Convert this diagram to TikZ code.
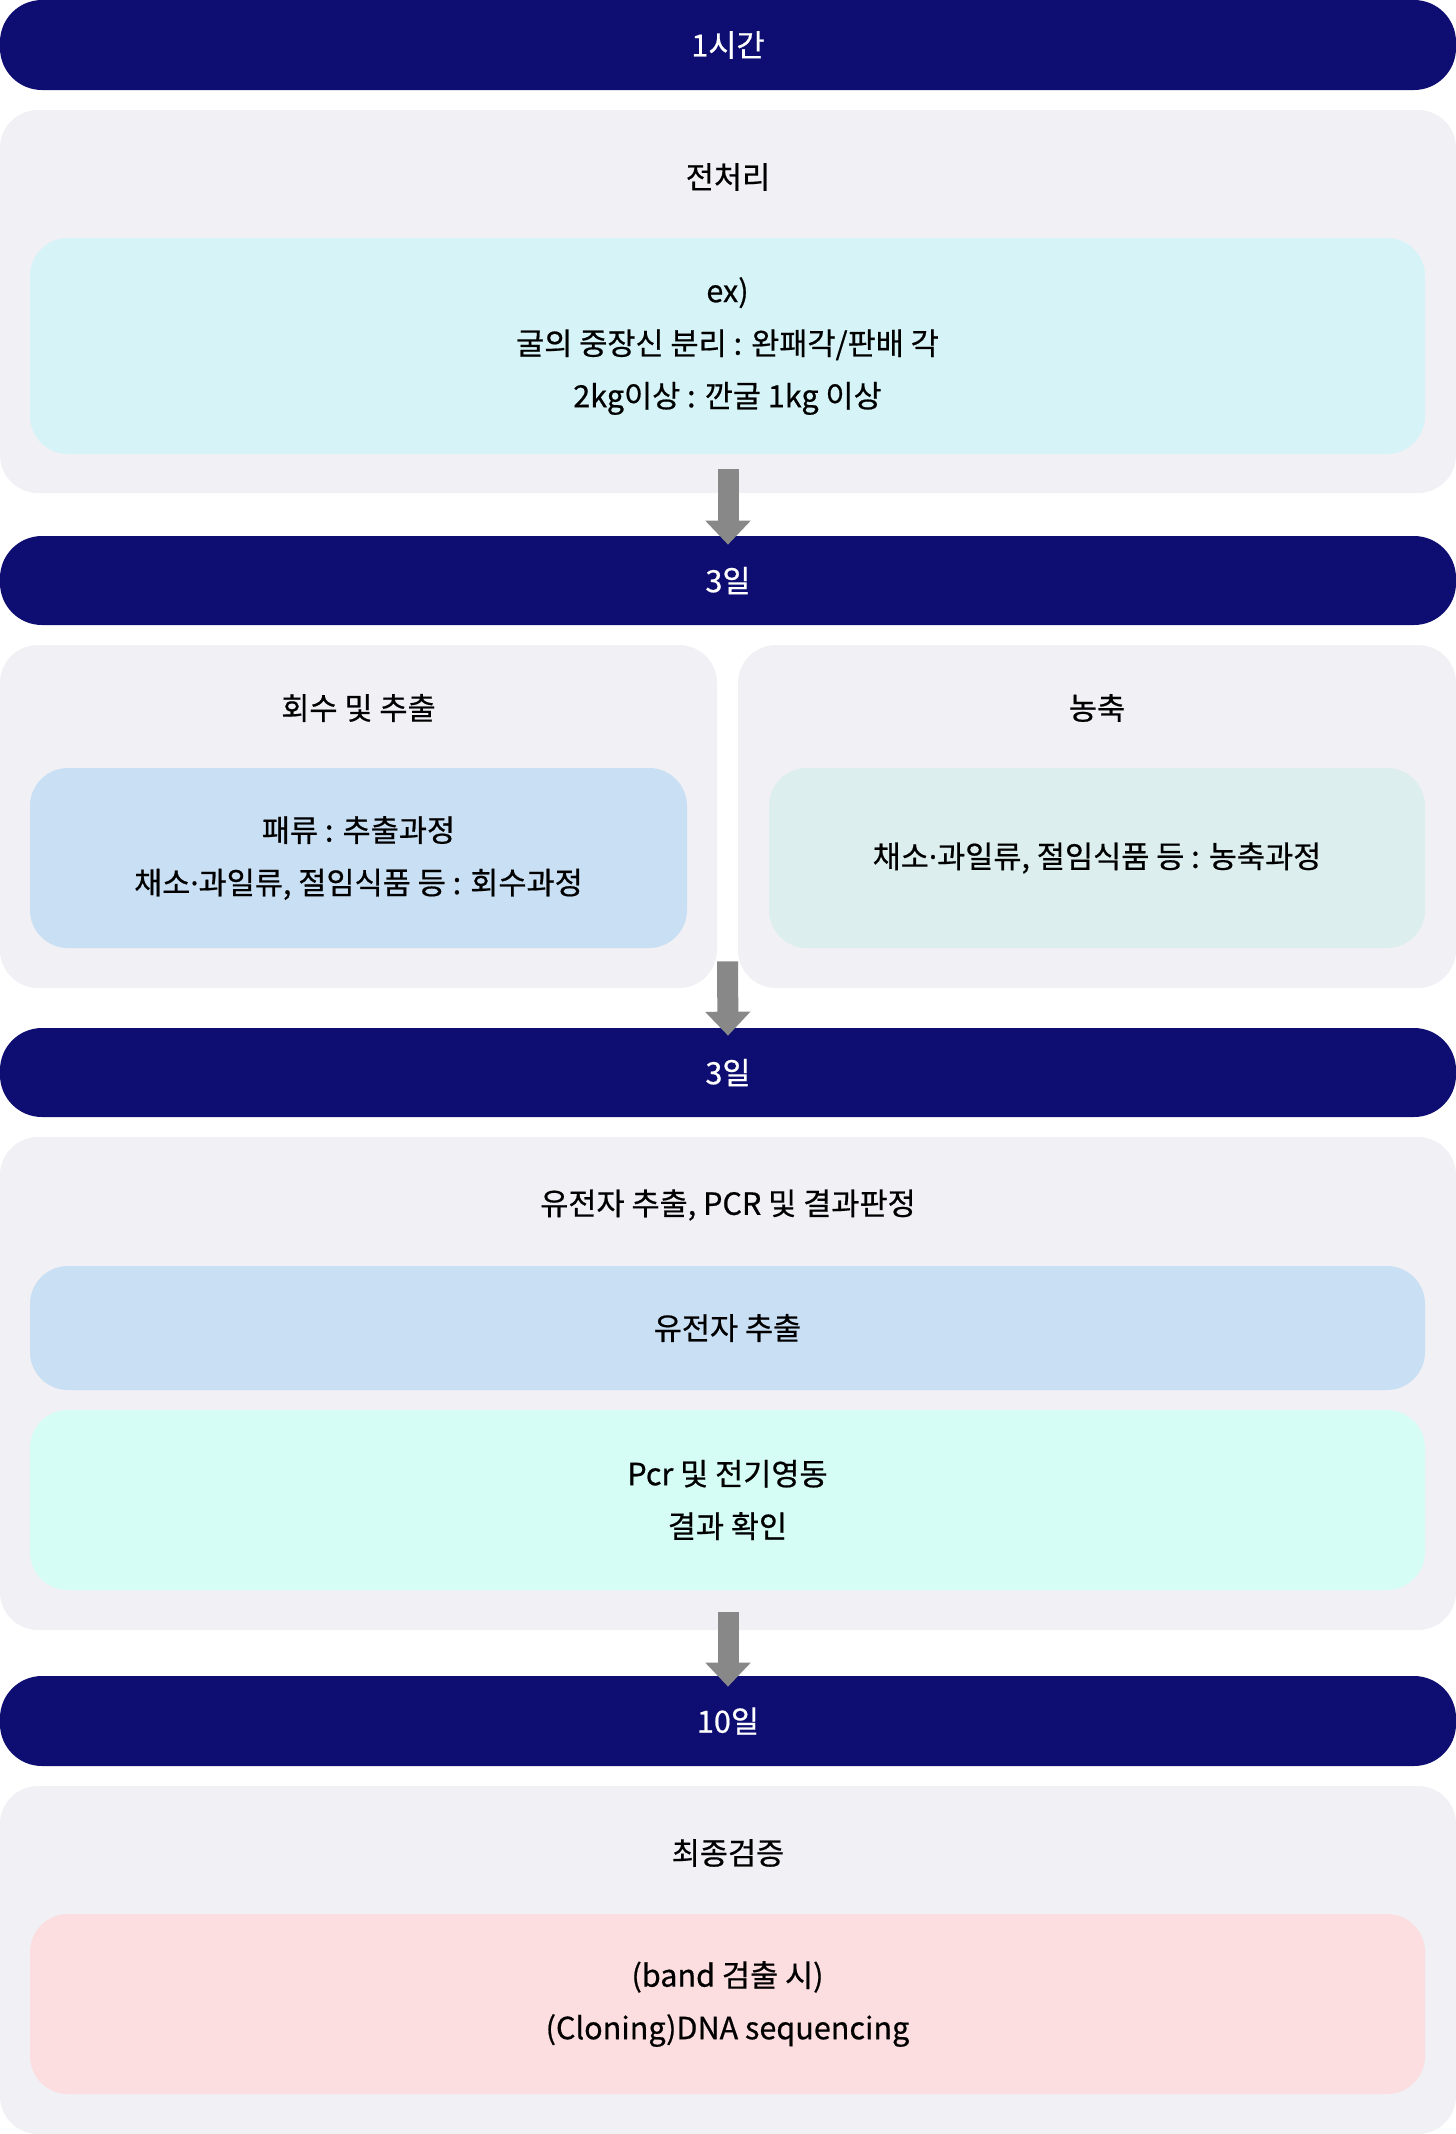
\documentclass[tikz,border=0pt]{standalone}
\usepackage{fontspec}
\setmainfont{Noto Sans CJK KR}[FakeBold=0.6]
\newfontfamily\dotfont{Noto Sans}[FakeBold=0.6]
\newcommand{\mdot}{{\dotfont ·}}
\usepackage{xcolor}
\usepackage{tikz}
\usetikzlibrary{arrows.meta,positioning,calc}
\definecolor{stepNavy}{HTML}{0E0E72}
\definecolor{panelGray}{HTML}{F0F0F5}
\definecolor{boxCyan}{HTML}{D6F4F8}
\definecolor{boxBlue}{HTML}{C9DFF3}
\definecolor{boxSage}{HTML}{DCEFEE}
\definecolor{boxMint}{HTML}{D5FDF5}
\definecolor{boxPink}{HTML}{FCDDE0}
\definecolor{arrGray}{HTML}{888888}

\begin{document}
\begin{tikzpicture}[font=\fontsize{17.4pt}{29.9pt}\selectfont,
  bar/.style={fill=stepNavy, text=white, rounded corners=0.84cm, minimum width=29.12cm, minimum height=1.8cm, inner sep=0pt},
  pnl/.style={fill=panelGray, rounded corners=0.76cm, inner sep=0pt},
  bx/.style={rounded corners=0.76cm, align=center, inner sep=0pt},
  flow/.style={draw=arrGray, line width=0.42cm, -{Triangle[width=0.88cm,length=0.48cm]}}]
\useasboundingbox (0,0) rectangle (29.12,-42.68);
\node[bar] (b1) at (14.56,-0.9) {1시간};
\node[pnl, minimum width=29.12cm, minimum height=7.66cm] (p1) at (14.56,-6.03) {};
\node (t1) at (14.56,-3.54) {전처리};
\node[bx, fill=boxCyan, minimum width=27.9cm, minimum height=4.32cm] (c1) at (14.55,-6.92) {ex)\\굴의 중장신 분리 : 완패각/판배 각\\2kg이상 : 깐굴 1kg 이상};
\node[bar, minimum height=1.78cm] (b2) at (14.56,-11.61) {3일};
\node[pnl, minimum width=14.34cm, minimum height=6.86cm] (p2a) at (7.17,-16.33) {};
\node[pnl, minimum width=14.36cm, minimum height=6.86cm] (p2b) at (21.94,-16.33) {};
\node (t2a) at (7.17,-14.16) {회수 및 추출};
\node (t2b) at (21.94,-14.16) {농축};
\node[bx, fill=boxBlue, minimum width=13.14cm, minimum height=3.6cm] (c2a) at (7.17,-17.16) {패류 : 추출과정\\채소\mdot 과일류, 절임식품 등 : 회수과정};
\node[bx, fill=boxSage, minimum width=13.12cm, minimum height=3.6cm] (c2b) at (21.94,-17.16) {채소\mdot 과일류, 절임식품 등 : 농축과정};
\node[bar, minimum height=1.78cm] (b3) at (14.56,-21.45) {3일};
\node[pnl, minimum width=29.12cm, minimum height=9.86cm] (p3) at (14.56,-27.67) {};
\node (t3) at (14.56,-24.1) {유전자 추출, PCR 및 결과판정};
\node[bx, fill=boxBlue, minimum width=27.9cm, minimum height=2.48cm] (c3a) at (14.55,-26.56) {유전자 추출};
\node[bx, fill=boxMint, minimum width=27.9cm, minimum height=3.6cm] (c3b) at (14.55,-30.0) {Pcr 및 전기영동\\결과 확인};
\node[bar] (b4) at (14.56,-34.42) {10일};
\node[pnl, minimum width=29.12cm, minimum height=6.96cm] (p4) at (14.56,-39.2) {};
\node (t4) at (14.56,-37.06) {최종검증};
\node[bx, fill=boxPink, minimum width=27.9cm, minimum height=3.6cm] (c4) at (14.55,-40.08) {(band 검출 시)\\(Cloning)DNA sequencing};
\draw[flow] ([yshift=0.48cm]p1.south) -- ([yshift=-0.18cm]b2.north);
\draw[flow] ($(p2a.south east)!.5!(p2b.south west)+(0,0.54)$) -- ([yshift=-0.16cm]b3.north);
\draw[flow] ([yshift=0.36cm]p3.south) -- ([yshift=-0.22cm]b4.north);
\end{tikzpicture}
\end{document}
